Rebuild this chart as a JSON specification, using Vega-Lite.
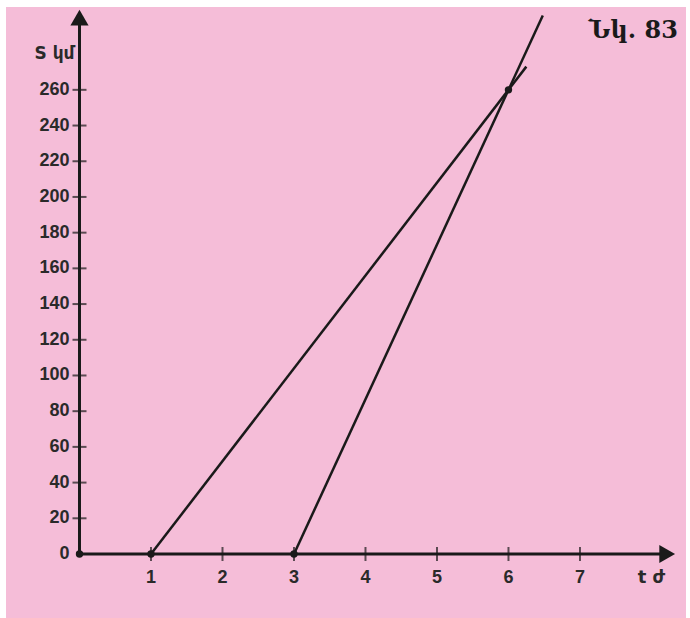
{
  "$schema": "https://vega.github.io/schema/vega-lite/v6.json",
  "autosize": {"type": "fit", "contains": "padding"},
  "width": 690,
  "height": 618,
  "padding": {"left": 6, "top": 7, "right": 4, "bottom": 0},
  "background": "white",
  "config": {"view": {"fill": "#f5bdd8", "stroke": null}},
  "datasets": {
    "lines": [
      {"series": "A", "t": 1, "s": 0},
      {"series": "A", "t": 6.25, "s": 273},
      {"series": "B", "t": 3, "s": 0},
      {"series": "B", "t": 6.48, "s": 301.6}
    ],
    "axes": [
      {"t": 0, "s": 0, "t2": 8.15, "s2": 0},
      {"t": 0, "s": 0, "t2": 0, "s2": 297}
    ],
    "xticks": [
      {"t": 1, "s": 0, "label": "1"},
      {"t": 2, "s": 0, "label": "2"},
      {"t": 3, "s": 0, "label": "3"},
      {"t": 4, "s": 0, "label": "4"},
      {"t": 5, "s": 0, "label": "5"},
      {"t": 6, "s": 0, "label": "6"},
      {"t": 7, "s": 0, "label": "7"}
    ],
    "yticks": [
      {"t": 0, "s": 20, "label": "20"},
      {"t": 0, "s": 40, "label": "40"},
      {"t": 0, "s": 60, "label": "60"},
      {"t": 0, "s": 80, "label": "80"},
      {"t": 0, "s": 100, "label": "100"},
      {"t": 0, "s": 120, "label": "120"},
      {"t": 0, "s": 140, "label": "140"},
      {"t": 0, "s": 160, "label": "160"},
      {"t": 0, "s": 180, "label": "180"},
      {"t": 0, "s": 200, "label": "200"},
      {"t": 0, "s": 220, "label": "220"},
      {"t": 0, "s": 240, "label": "240"},
      {"t": 0, "s": 260, "label": "260"}
    ],
    "dots": [
      {"t": 0, "s": 0},
      {"t": 1, "s": 0},
      {"t": 3, "s": 0},
      {"t": 6, "s": 260}
    ],
    "arrowX": [{"t": 8.22, "s": 0}],
    "arrowY": [{"t": 0, "s": 300.5}],
    "zero": [{"t": 0, "s": 0, "label": "0"}],
    "xtitle": [{"t": 8.0, "s": 0, "label": "t ժ"}],
    "ytitle": [{"t": 0, "s": 280, "label": "S կմ"}],
    "fig": [{"t": 8.37, "s": 293, "label": "Նկ. 83"}]
  },
  "encoding": {
    "x": {"field": "t", "type": "quantitative", "scale": {"domain": [-1.028, 8.483], "nice": false, "zero": false}, "axis": null},
    "y": {"field": "s", "type": "quantitative", "scale": {"domain": [-35.85, 306.4], "nice": false, "zero": false}, "axis": null}
  },
  "layer": [
    {
      "data": {"name": "axes"},
      "mark": {"type": "rule", "color": "#1a1a1a", "strokeWidth": 3},
      "encoding": {
        "x2": {"field": "t2"},
        "y2": {"field": "s2"}
      }
    },
    {
      "data": {"name": "arrowX"},
      "mark": {"type": "point", "shape": "triangle-right", "filled": true, "color": "#1a1a1a", "size": 330, "opacity": 1}
    },
    {
      "data": {"name": "arrowY"},
      "mark": {"type": "point", "shape": "triangle-up", "filled": true, "color": "#1a1a1a", "size": 330, "opacity": 1}
    },
    {
      "data": {"name": "xticks"},
      "mark": {"type": "tick", "orient": "vertical", "color": "#1a1a1a", "size": 14, "thickness": 2}
    },
    {
      "data": {"name": "yticks"},
      "mark": {"type": "tick", "orient": "horizontal", "color": "#1a1a1a", "size": 14, "thickness": 2}
    },
    {
      "data": {"name": "lines"},
      "mark": {"type": "line", "color": "#1a1a1a", "strokeWidth": 2.5},
      "encoding": {"detail": {"field": "series"}}
    },
    {
      "data": {"name": "dots"},
      "mark": {"type": "point", "shape": "circle", "filled": true, "color": "#1a1a1a", "size": 55, "opacity": 1}
    },
    {
      "data": {"name": "xticks"},
      "mark": {"type": "text", "font": "Liberation Sans", "fontSize": 18, "fontWeight": "bold", "color": "#2a2a2a", "dy": 24},
      "encoding": {"text": {"field": "label"}}
    },
    {
      "data": {"name": "yticks"},
      "mark": {"type": "text", "font": "Liberation Sans", "fontSize": 18, "fontWeight": "bold", "color": "#2a2a2a", "align": "right", "dx": -10},
      "encoding": {"text": {"field": "label"}}
    },
    {
      "data": {"name": "zero"},
      "mark": {"type": "text", "font": "Liberation Sans", "fontSize": 18, "fontWeight": "bold", "color": "#2a2a2a", "align": "right", "dx": -10},
      "encoding": {"text": {"field": "label"}}
    },
    {
      "data": {"name": "xtitle"},
      "mark": {"type": "text", "font": "DejaVu Sans", "fontSize": 18, "fontWeight": "bold", "color": "#2a2a2a", "dy": 24},
      "encoding": {"text": {"field": "label"}}
    },
    {
      "data": {"name": "ytitle"},
      "mark": {"type": "text", "font": "DejaVu Sans", "fontSize": 17, "fontWeight": "bold", "color": "#2a2a2a", "align": "right", "dx": -5},
      "encoding": {"text": {"field": "label"}}
    },
    {
      "data": {"name": "fig"},
      "mark": {"type": "text", "font": "DejaVu Serif", "fontSize": 24, "fontWeight": "bold", "color": "#1a1a1a", "align": "right"},
      "encoding": {"text": {"field": "label"}}
    }
  ]
}
